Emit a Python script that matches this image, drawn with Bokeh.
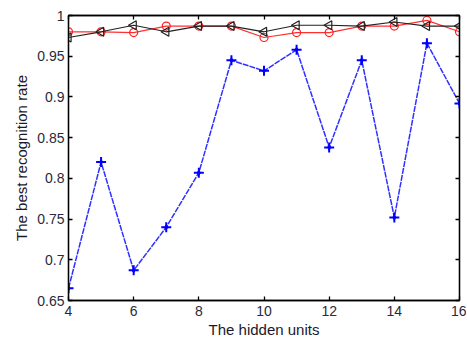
from bokeh.plotting import figure
from bokeh.models import LinearAxis, FixedTicker, CustomJSTickFormatter, Range1d
from bokeh.embed import file_html
from bokeh.resources import INLINE

hidden_units = [4, 5, 6, 7, 8, 9, 10, 11, 12, 13, 14, 15, 16]
blue_star = [0.665, 0.820, 0.687, 0.740, 0.807, 0.945, 0.932, 0.958, 0.838, 0.945, 0.752, 0.966, 0.892]
red_circle = [0.980, 0.980, 0.979, 0.987, 0.987, 0.987, 0.973, 0.979, 0.979, 0.987, 0.987, 0.994, 0.980]
black_triangle = [0.973, 0.980, 0.988, 0.980, 0.987, 0.987, 0.980, 0.988, 0.988, 0.987, 0.992, 0.987, 0.987]
x_ticks = [4, 6, 8, 10, 12, 14, 16]
y_ticks = [0.65, 0.7, 0.75, 0.8, 0.85, 0.9, 0.95, 1.0]

FONT = "Liberation Sans"

p = figure(width=466, height=338, output_backend="svg", toolbar_location=None,
           x_range=Range1d(4, 16), y_range=Range1d(0.65, 1.0),
           frame_width=391, frame_height=285,
           min_border_left=68, min_border_top=15, min_border_right=7, min_border_bottom=38)
p.grid.visible = False
p.outline_line_color = "black"
p.outline_line_width = 1.3

fmt = CustomJSTickFormatter(code="return String(Math.round(tick*100)/100);")

def style(ax, labels=True):
    ax.major_tick_in = 4
    ax.major_tick_out = 0
    ax.minor_tick_line_color = None
    ax.axis_line_width = 1.3
    ax.major_tick_line_width = 1.3
    ax.major_label_text_font = FONT
    ax.major_label_text_font_size = "14px"
    ax.major_label_text_color = "#2a2a3a"
    ax.axis_label_text_font = FONT
    ax.axis_label_text_font_size = "15px"
    ax.axis_label_text_font_style = "normal"
    ax.axis_label_text_color = "#1a1a2a"
    if not labels:
        ax.major_label_text_font_size = "0px"
        ax.major_label_text_color = None

xa = p.xaxis[0]
xa.ticker = FixedTicker(ticks=x_ticks)
xa.axis_label = "The hidden units"
xa.axis_label_standoff = 2
xa.major_label_standoff = 5
style(xa)
ya = p.yaxis[0]
ya.ticker = FixedTicker(ticks=y_ticks)
ya.formatter = fmt
ya.axis_label = "The best recognition rate"
ya.axis_label_standoff = 4
ya.major_label_standoff = 4
style(ya)

top = LinearAxis(ticker=FixedTicker(ticks=x_ticks))
style(top, labels=False)
p.add_layout(top, "above")
right = LinearAxis(ticker=FixedTicker(ticks=y_ticks))
style(right, labels=False)
p.add_layout(right, "right")

p.line(hidden_units, blue_star, line_color="#3030ff", line_width=1.5, line_dash="6 1")
p.scatter(hidden_units, blue_star, marker="cross", size=10, line_color="blue", line_width=2)
p.scatter(hidden_units, blue_star, marker="diamond", size=5, fill_color="blue", line_color="blue")

p.line(hidden_units, red_circle, line_color="#ff3030", line_width=1.2)
p.scatter(hidden_units, red_circle, marker="circle", size=8, fill_color=None, line_color="#ff2020", line_width=1.2)

p.line(hidden_units, black_triangle, line_color="#222", line_width=1.2)
p.scatter(hidden_units, black_triangle, marker="triangle", angle=1.5708, size=9, fill_color=None, line_color="#222", line_width=1.2)

open("out.html", "w").write(file_html(p, INLINE))
